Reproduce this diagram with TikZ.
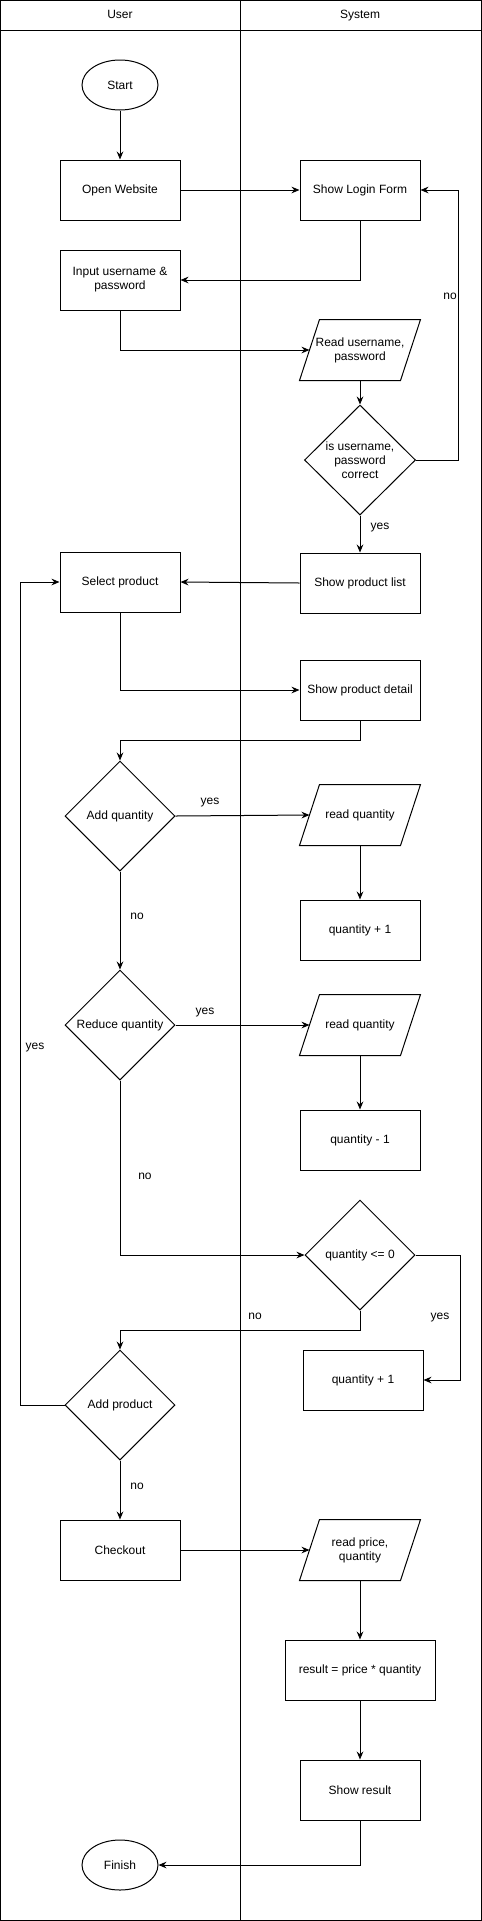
\documentclass[tikz,border=0pt]{standalone}
\usepackage{fontspec}
\setmainfont{Liberation Sans}
\usetikzlibrary{shapes.geometric,arrows.meta}

\begin{document}
\begin{tikzpicture}[x=0.75pt,y=-0.75pt,line width=0.75pt,
        font=\fontsize{9}{10.5}\selectfont,
        box/.style={draw,rectangle,minimum width=90pt,minimum height=45pt,align=center},
        io/.style={rectangle,minimum width=90pt,minimum height=45pt,align=center},
        term/.style={draw,ellipse,minimum width=57pt,minimum height=37.5pt,inner sep=0pt},
        cond/.style={draw,diamond,minimum width=82.5pt,minimum height=82.5pt,inner sep=0pt,align=center},
        arr/.style={-{Stealth[length=6pt,width=5pt,inset=2pt]}},
        lbl/.style={inner sep=0pt,text height=6.5pt,text depth=1.8pt}]
                \useasboundingbox (0,0) rectangle (482,1921);
                % swimlanes
                \draw (0.5,0.5) rectangle (481,1920);
                \draw (240,0.5) -- (240,1920);
                \draw (0.5,30) -- (481,30);
                \node[lbl] (user) at (120,15) {User};
                \node[lbl] (system) at (360,15) {System};

                % login
                \node[term] (start) at (120,85) {Start};
                \node[box] (open) at (120,190) {Open Website};
                \node[box] (login) at (360,190) {Show Login Form};
                \node[box] (input) at (120,280) {Input username \&\\ password};
                \node[io] (readup) at (360,350) {Read username,\\ password};
                \node[cond,aspect=1.15] (check) at (360,460) {is username,\\ password\\ correct};
                \node[box] (plist) at (360,583) {Show product list};

                % product
                \node[box] (select) at (120,582) {Select product};
                \node[box] (detail) at (360,690) {Show product detail};
                \node[cond] (addq) at (120,816) {Add quantity};
                \node[io] (rq1) at (360,815) {read quantity};
                \node[box] (inc1) at (360,930) {quantity + 1};
                \node[cond] (redq) at (120,1025) {Reduce quantity};
                \node[io] (rq2) at (360,1025) {read quantity};
                \node[box] (dec) at (360,1140) {quantity - 1};
                \node[cond] (le0) at (360,1255) {quantity <= 0};
                \node[box] (inc2) at (363,1380) {quantity + 1};
                \node[cond] (addp) at (120,1405) {Add product};

                % checkout
                \node[box] (checkout) at (120,1550) {Checkout};
                \node[io] (rp) at (360,1550) {read price,\\ quantity};
                \node[box,minimum width=112.5pt] (result) at (360,1670) {result = price * quantity};
                \node[box] (showr) at (360,1790) {Show result};
                \node[term] (finish) at (120,1865) {Finish};

                \foreach \n in {readup,rq1,rq2,rp}
                    \draw ([xshift=15pt]\n.north west) -- (\n.north east) -- ([xshift=-15pt]\n.south east) -- (\n.south west) -- cycle;

                \draw[arr] (start) -- (open);
                \draw[arr] (open) -- (login);
                \draw[arr] (login.south) |- (input.east);
                \draw[arr] (input.south) |- ([xshift=7.5pt]readup.west);
                \draw[arr] (readup) -- (check);
                \draw[arr] (check.east) -- ++(42,0) |- (login.east);
                \node[lbl] (no1) at (450,296) {no};
                \draw[arr] (check) -- (plist);
                \node[lbl] (yes1) at (380,526) {yes};
                \draw[arr] (plist.west) -- (select.east);
                \draw[arr] (select.south) |- (detail.west);
                \draw[arr] (detail.south) -- ++(0,20) -| (addq.north);
                \draw[arr] (addq.east) -- ([xshift=7.5pt]rq1.west);
                \node[lbl] (yes2) at (210,801) {yes};
                \draw[arr] (rq1) -- (inc1);
                \draw[arr] (addq) -- (redq);
                \node[lbl] (no2) at (137,916) {no};
                \draw[arr] (redq.east) -- ([xshift=7.5pt]rq2.west);
                \node[lbl] (yes3) at (205,1011) {yes};
                \draw[arr] (rq2) -- (dec);
                \draw[arr] (redq.south) |- (le0.west);
                \node[lbl] (no3) at (145,1176) {no};
                \draw[arr] (le0.east) -- ++(45,0) |- (inc2.east);
                \node[lbl] (yes4) at (440,1316) {yes};
                \draw[arr] (le0.south) -- ++(0,20) -| (addp.north);
                \node[lbl] (no4) at (255,1316) {no};
                \draw[arr] (addp.west) -- ++(-44,0) |- (select.west);
                \node[lbl] (yes5) at (35,1046) {yes};
                \draw[arr] (addp) -- (checkout);
                \node[lbl] (no5) at (137,1486) {no};
                \draw[arr] (checkout.east) -- ([xshift=7.5pt]rp.west);
                \draw[arr] (rp) -- (result);
                \draw[arr] (result) -- (showr);
                \draw[arr] (showr.south) |- (finish.east);
            \end{tikzpicture}
\end{document}
